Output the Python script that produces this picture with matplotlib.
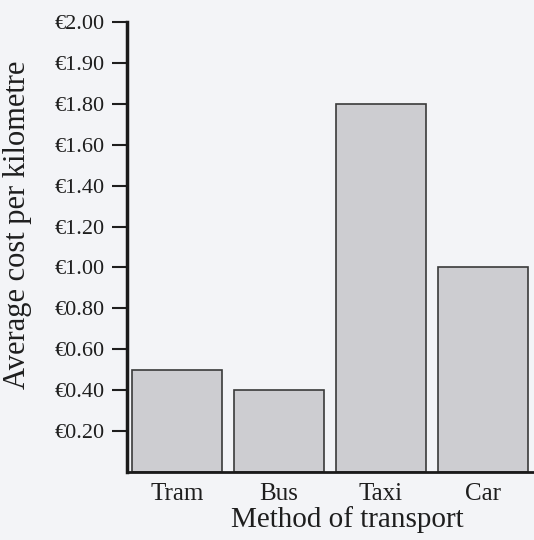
import matplotlib.pyplot as plt
import numpy as np

# data
methods = ['Tram', 'Bus', 'Taxi', 'Car']
costs = [0.50, 0.40, 1.80, 1.00]
tick_values = [0.20, 0.40, 0.60, 0.80, 1.00, 1.20, 1.40, 1.60, 1.80, 1.90, 2.00]
tick_labels = ['€0.20', '€0.40', '€0.60', '€0.80', '€1.00', '€1.20',
               '€1.40', '€1.60', '€1.80', '€1.90', '€2.00']


# the axis is stretched above 1.80 (0.10 per step instead of 0.20)
def forward(v):
    v = np.asarray(v, dtype=float)
    return np.where(v <= 1.8, v / 0.2, 9 + (v - 1.8) / 0.1)


def inverse(p):
    p = np.asarray(p, dtype=float)
    return np.where(p <= 9, p * 0.2, 1.8 + (p - 9) * 0.1)


plt.rcParams['font.family'] = ['Liberation Serif', 'DejaVu Serif']

bg = '#f3f4f7'
txt = '#1e1e1e'
fig = plt.figure(figsize=(5.34, 5.40), dpi=100, facecolor=bg)
ax = fig.add_axes([0.238, 0.126, 0.76, 0.833])
ax.set_facecolor(bg)

x = np.arange(len(methods))
ax.bar(x, costs, width=0.88, color='#cdcdd1', edgecolor='#3a3a3a', linewidth=1.2)

ax.set_yscale('function', functions=(forward, inverse))
ax.set_ylim(0, 2.0)
ax.set_xlim(-0.49, 3.49)
ax.set_yticks(tick_values)
ax.set_yticklabels(tick_labels)
ax.minorticks_off()
ax.set_xticks(x)
ax.set_xticklabels(methods)

ax.tick_params(axis='y', length=11, width=1.5, pad=5, labelsize=16, colors=txt)
ax.tick_params(axis='x', length=0, pad=8, labelsize=18, colors=txt)

for side in ['top', 'right']:
    ax.spines[side].set_visible(False)
ax.spines['left'].set_linewidth(2.5)
ax.spines['bottom'].set_linewidth(2.0)
ax.spines['left'].set_color('#1a1a1a')
ax.spines['bottom'].set_color('#1a1a1a')

ax.set_ylabel('Average cost per kilometre', fontsize=22, color=txt)
ax.set_xlabel('Method of transport', fontsize=21, color=txt, va='top')
ax.yaxis.set_label_coords(-0.235, 0.55)
ax.xaxis.set_label_coords(0.543, -0.075)

fig.savefig('out.png', dpi=100, facecolor=bg)
